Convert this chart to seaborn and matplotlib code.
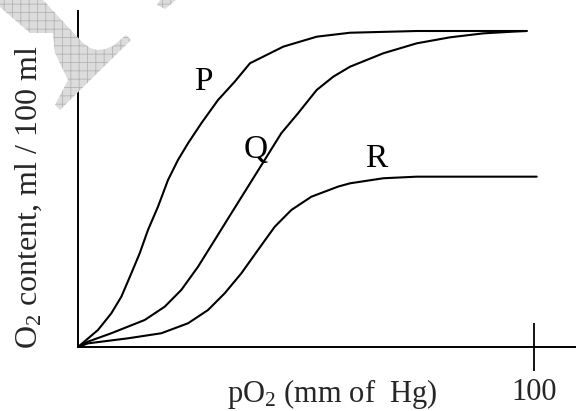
import numpy as np
import pandas as pd
import matplotlib
matplotlib.use("Agg")
import matplotlib.pyplot as plt
import seaborn as sns
from matplotlib.patches import Polygon

# ---- data ----
p_x = [0, 4.39, 7.30, 9.50, 11.69, 13.53, 15.35, 17.54, 19.74, 21.93, 24.12, 27.04,
       30.70, 34.36, 37.72, 45.02, 52.35, 59.65, 74.28, 98.4]
p_y = [0, 1.08, 2.13, 3.18, 4.66, 5.93, 7.41, 8.88, 10.57, 11.84, 12.89, 14.16,
       15.63, 16.79, 17.96, 19.01, 19.64, 19.89, 20.0, 20.0]

q_x = [0, 2.19, 7.30, 14.63, 19.01, 22.65, 26.32, 29.98, 33.62, 37.28, 40.94, 44.58,
       48.25, 52.35, 55.99, 59.65, 66.95, 74.28, 81.58, 88.88, 95.46, 98.4]
q_y = [0, 0.34, 0.87, 1.71, 2.55, 3.61, 5.08, 6.77, 8.46, 10.15, 11.84, 13.53,
       14.79, 16.27, 17.11, 17.74, 18.59, 19.22, 19.60, 19.85, 19.96, 20.0]

r_x = [0, 2.19, 10.96, 18.27, 24.12, 28.51, 32.17, 35.81, 39.47, 43.14, 46.78, 51.16,
       57.02, 59.65, 66.95, 74.28, 100.59]
r_y = [0, 0.23, 0.55, 0.87, 1.50, 2.34, 3.40, 4.66, 6.14, 7.61, 8.67, 9.51,
       10.15, 10.36, 10.68, 10.78, 10.78]

curve_names = ["P", "Q", "R"]
label_pos = {"P": (27.4, 16.8), "Q": (39.0, 12.5), "R": (65.4, 11.9)}
x_ticks = [100]
x_tick_labels = ["100"]

df = pd.concat([
    pd.DataFrame({"pO2": p_x, "O2": p_y, "curve": "P"}),
    pd.DataFrame({"pO2": q_x, "O2": q_y, "curve": "Q"}),
    pd.DataFrame({"pO2": r_x, "O2": r_y, "curve": "R"}),
], ignore_index=True)

sns.set_style("white")
plt.rcParams["font.family"] = ["Liberation Serif", "DejaVu Serif"]
plt.rcParams["mathtext.fontset"] = "custom"
plt.rcParams["mathtext.rm"] = "Liberation Serif"
plt.rcParams["mathtext.it"] = "Liberation Serif:italic"
plt.rcParams["hatch.linewidth"] = 0.6

W, H = 576, 411
fig = plt.figure(figsize=(W / 100, H / 100), dpi=100)
fig.patch.set_facecolor("white")

# watermark decoration (figure pixel coordinates, y measured from top)
wm1 = [(0, 0), (43, 0), (83, 43), (90, 48), (97, 50), (105, 49), (113, 46), (120, 40),
       (126, 35), (131, 40), (60, 110), (55, 105), (68, 80), (55, 53), (53, 33), (30, 33), (0, 7)]
wm2 = [(160, 0), (176, 0), (165, 9), (157, 5)]
for pts in (wm1, wm2):
    poly = Polygon([(x / W, 1 - y / H) for x, y in pts], closed=True,
                   transform=fig.transFigure, facecolor="#dcdcdc",
                   edgecolor="#b4b4b4", hatch="++", linewidth=0, zorder=0)
    fig.patches.append(poly)

ax = fig.add_axes([78 / W, (H - 347) / H, (W - 78) / W, 336 / H])
ax.patch.set_alpha(0)

sns.lineplot(data=df, x="pO2", y="O2", hue="curve", units="curve", estimator=None,
             sort=False, palette={"P": "black", "Q": "black", "R": "black"},
             linewidth=1.5, legend=False, ax=ax)

for name in curve_names:
    lx, ly = label_pos[name]
    ax.text(lx, ly, name, fontsize=24, ha="center", va="center", color="black")

ax.set_xlim(0, (W - 78) / 4.56)
ax.set_ylim(0, 336 / 15.8)
for s in ["top", "right"]:
    ax.spines[s].set_visible(False)
for s in ["left", "bottom"]:
    ax.spines[s].set_color("black")
    ax.spines[s].set_linewidth(1.4)

ax.set_yticks([])
ax.set_xticks(x_ticks)
ax.set_xticklabels(x_tick_labels, fontsize=22)
ax.tick_params(axis="x", bottom=True, direction="inout", length=35, width=1.3,
               color="black", pad=5)
ax.set_xlabel("")
ax.set_ylabel("")

fig.text(332 / W, 1 - 402 / H, r"pO$_2$ (mm of  Hg)", fontsize=22, ha="center", va="baseline")
fig.text(29 / W, 1 - 197 / H, r"O$_2$ content, ml / 100 ml", fontsize=23, rotation=90,
         ha="center", va="center")

fig.savefig("out.png", dpi=100)
